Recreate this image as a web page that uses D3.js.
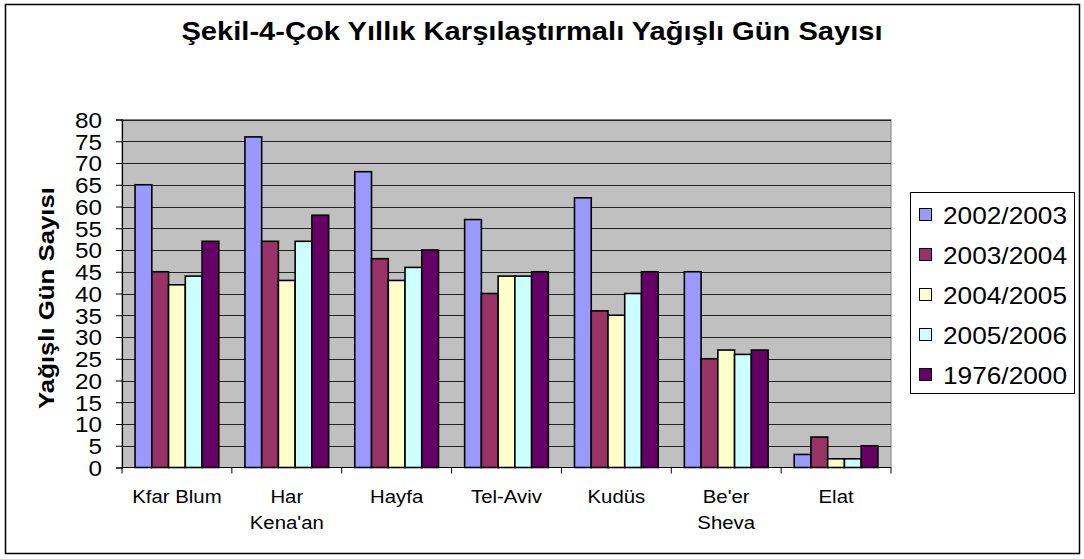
<!DOCTYPE html>
<meta charset="utf-8">
<head>
  <title>Yağışlı Gün Sayısı</title>
  <style>
    body { margin: 0; background: #fff; }
    svg text { font-family: "Liberation Sans", Arial, sans-serif; fill: #000; }
    .grid line { stroke: #222; stroke-width: 1px; }
    .bar { stroke: #000; stroke-width: 1.6px; }
  </style>
</head>
<body>
  <svg width="1084" height="559"></svg>
  <script src="https://d3js.org/d3.v7.min.js"></script>
  <script>
    // data
    var cities = ["Kfar Blum", "Har Kena'an", "Hayfa", "Tel-Aviv", "Kudüs", "Be'er Sheva", "Elat"];
    var seasons = ["2002/2003", "2003/2004", "2004/2005", "2005/2006", "1976/2000"];
    var colors = ["#9999ff", "#993366", "#ffffcc", "#ccffff", "#660066"];
    var v2002 = [65, 76, 68, 57, 62, 45, 3];
    var v2003 = [45, 52, 48, 40, 36, 25, 7];
    var v2004 = [42, 43, 43, 44, 35, 27, 2];
    var v2005 = [44, 52, 46, 44, 40, 26, 2];
    var v1976 = [52, 58, 50, 45, 45, 27, 5];
    var yTicks = d3.range(0, 81, 5);

    var series = [v2002, v2003, v2004, v2005, v1976];

    var svg = d3.select("svg");

    // outer frame
    svg.append("rect")
        .attr("x", 5.5).attr("y", 4.5)
        .attr("width", 1074).attr("height", 549)
        .attr("fill", "#fff").attr("stroke", "#000").attr("stroke-width", 1.5);

    var pL = 122, pR = 891, pT = 119.5, pB = 467.5;

    var x0 = d3.scaleBand().domain(cities).range([pL, pR]);
    var x1 = d3.scaleBand().domain(seasons).range([0, x0.bandwidth()]).paddingOuter(0.78);
    var y = d3.scaleLinear().domain([0, 80]).range([pB, pT]);

    // plot area
    svg.append("rect")
        .attr("x", pL).attr("y", pT)
        .attr("width", pR - pL).attr("height", pB - pT)
        .attr("fill", "#c0c0c0").attr("stroke", "#808080");

    var grid = svg.append("g").attr("class", "grid");
    grid.selectAll("line")
      .data(yTicks.filter(function(d) { return d > 0; }))
      .enter().append("line")
        .attr("x1", pL).attr("x2", pR)
        .attr("y1", function(d) { return Math.round(y(d)) + 0.5; })
        .attr("y2", function(d) { return Math.round(y(d)) + 0.5; });

    // bars
    var groups = svg.selectAll(".city")
      .data(cities)
      .enter().append("g")
        .attr("transform", function(d) { return "translate(" + x0(d) + ",0)"; });

    groups.selectAll("rect")
      .data(function(c, ci) { return seasons.map(function(s, si) { return { s: s, i: si, v: series[si][ci] }; }); })
      .enter().append("rect")
        .attr("class", "bar")
        .attr("x", function(d) { return x1(d.s); })
        .attr("width", x1.bandwidth())
        .attr("y", function(d) { return y(d.v); })
        .attr("height", function(d) { return y(0) - y(d.v); })
        .attr("fill", function(d) { return colors[d.i]; });

    // y axis
    var yAxis = svg.append("g")
        .attr("transform", "translate(" + pL + ",0)")
        .call(d3.axisLeft(y).tickValues(yTicks).tickSize(6).tickPadding(14));
    yAxis.select(".domain").attr("stroke", "#000").attr("stroke-width", 1.2);
    yAxis.selectAll(".tick line").attr("stroke", "#000");
    yAxis.selectAll("text")
        .style("font-size", "22px")
        .attr("dy", "0.36em")
        .attr("textLength", function(d) { return d < 10 ? 13.5 : 27; })
        .attr("lengthAdjust", "spacingAndGlyphs");

    // x axis
    var xAxis = svg.append("g")
        .attr("transform", "translate(0," + pB + ")");
    xAxis.append("line")
        .attr("x1", pL).attr("x2", pR)
        .attr("stroke", "#000").attr("stroke-width", 1.2);
    xAxis.selectAll(".xt")
      .data(cities.concat(["end"]))
      .enter().append("line")
        .attr("x1", function(d, i) { return i < cities.length ? x0(d) : pR; })
        .attr("x2", function(d, i) { return i < cities.length ? x0(d) : pR; })
        .attr("y1", 0).attr("y2", 6)
        .attr("stroke", "#000");

    var splitLabel = { "Har Kena'an": ["Har", "Kena'an"], "Be'er Sheva": ["Be'er", "Sheva"] };
    xAxis.selectAll(".xl")
      .data(cities)
      .enter().append("text")
        .attr("text-anchor", "middle")
        .style("font-size", "18.5px")
        .attr("transform", function(d) { return "translate(" + (x0(d) + x0.bandwidth() / 2) + ",35) scale(1.1,1)"; })
        .each(function(d) {
          var lines = splitLabel[d] || [d];
          d3.select(this).selectAll("tspan")
            .data(lines)
            .enter().append("tspan")
              .attr("x", 0)
              .attr("y", function(l, i) { return i * 27; })
              .text(function(l) { return l; });
        });

    // y axis title
    svg.append("text")
        .attr("transform", "translate(54,298) rotate(-90) scale(1.12,1)")
        .attr("text-anchor", "middle")
        .style("font-size", "23px")
        .style("font-weight", "bold")
        .text("Yağışlı Gün Sayısı");

    // title
    svg.append("text")
        .attr("transform", "translate(532,40) scale(1.12,1)")
        .attr("text-anchor", "middle")
        .style("font-size", "26px")
        .style("font-weight", "bold")
        .text("Şekil-4-Çok Yıllık Karşılaştırmalı Yağışlı Gün Sayısı");

    // legend
    var legend = svg.append("g").attr("transform", "translate(910,192)");
    legend.append("rect")
        .attr("x", 0.5).attr("y", 0.5)
        .attr("width", 164).attr("height", 201)
        .attr("fill", "#fff").attr("stroke", "#000");

    var item = legend.selectAll(".item")
      .data(seasons)
      .enter().append("g")
        .attr("transform", function(d, i) { return "translate(0," + (23 + i * 40) + ")"; });
    item.append("rect")
        .attr("x", 9.5).attr("y", -6.5)
        .attr("width", 12).attr("height", 12)
        .attr("fill", function(d, i) { return colors[i]; })
        .attr("stroke", "#000");
    item.append("text")
        .attr("x", 33)
        .attr("dy", "0.36em")
        .style("font-size", "24px")
        .attr("textLength", 124)
        .attr("lengthAdjust", "spacingAndGlyphs")
        .text(function(d) { return d; });
  </script>
</body>
</html>
